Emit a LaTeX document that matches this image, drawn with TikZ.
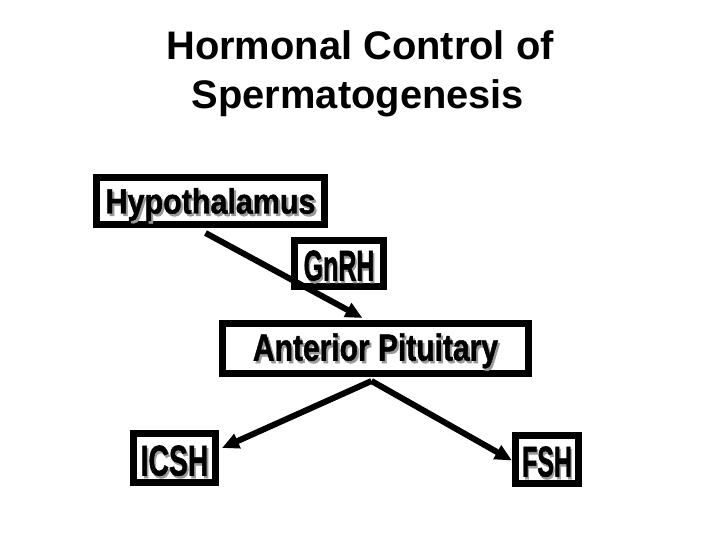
\documentclass[tikz,border=0pt]{standalone}
\usepackage{fontspec}
\setmainfont{Liberation Sans}
\newfontfamily\heavyfont[FakeBold=1.4]{Liberation Sans Bold}
\usetikzlibrary{arrows.meta,shadows,calc}
% #1 font size, #2 horizontal scale, #3 downward shift of the baseline, #4 text
\newcommand\shlbl[4]{\raisebox{-#3}[0pt][0pt]{\scalebox{#2}[1]{\fontsize{#1}{#1}\heavyfont\makebox[0pt][l]{\hspace{2.5bp}\raisebox{-2.5bp}{\color{black!40}#4}}#4}}}
\begin{document}
\begin{tikzpicture}[x=1bp,y=-1bp,
  organ/.style={draw=black, line width=7bp, fill=white, inner sep=0pt,
    drop shadow={shadow xshift=3bp, shadow yshift=-3bp, fill=black!45, opacity=1}},
  flow/.style={line width=6bp, -{Triangle[length=17bp,width=15bp]}},
  title/.style={font=\fontsize{40}{40}\selectfont\bfseries, anchor=base}]
\useasboundingbox (0,0) rectangle (720,540);
\node[title] (t1) at (360,60) {Hormonal Control of};
\node[title] (t2) at (358,109) {Spermatogenesis};
\node[organ, minimum width=228bp, minimum height=47bp] (hyp) at (210.5,201) {\shlbl{35bp}{0.87}{12.5bp}{Hypothalamus}};
\node[organ, minimum width=89bp, minimum height=46bp] (gnrh) at (339,263.5) {\shlbl{43bp}{0.58}{17bp}{GnRH}};
\node[organ, minimum width=306bp, minimum height=50bp] (ap) at (375.5,348.5) {\shlbl{37.5bp}{0.8}{12bp}{Anterior Pituitary}};
\node[organ, minimum width=82bp, minimum height=49bp] (icsh) at (174.5,458) {\shlbl{43bp}{0.66}{17.5bp}{ICSH}};
\node[organ, minimum width=63bp, minimum height=48bp] (fsh) at (547,459.5) {\shlbl{43bp}{0.58}{17bp}{FSH}};
\coordinate (apex) at ($(ap.south)+(-4,4)$);
\draw[flow] ($(hyp.south)+(-5,5)$) -- ($(ap.north)+(-13,-2)$);
\draw[flow] (apex) -- ($(icsh.east)+(3,-10)$);
\draw[flow] (apex) -- ($(fsh.west)+(0,1)$);
\end{tikzpicture}
\end{document}
